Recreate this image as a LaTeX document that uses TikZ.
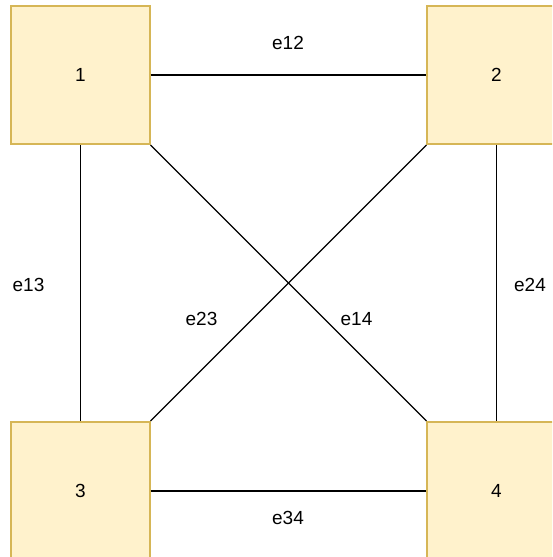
\documentclass[tikz,border=0pt]{standalone}
\usepackage{fontspec}
\setmainfont{Liberation Sans}
\definecolor{boxfill}{HTML}{FFF2CC}
\definecolor{boxdraw}{HTML}{D6B656}
\tikzset{
  vbox/.style={draw=boxdraw, fill=boxfill, line width=1.6pt, minimum width=138.5pt, minimum height=138.5pt, inner sep=0pt, font=\fontsize{19}{21}\selectfont},
  elabel/.style={inner sep=0pt, font=\fontsize{19}{21}\selectfont},
  edge/.style={draw=black, line width=1.3pt}
}
\begin{document}
\begin{tikzpicture}[x=1pt,y=-1pt]
\useasboundingbox (0,0) rectangle (552,557);
\clip (0,0) rectangle (552,557);
\node[vbox] (n1) at (80.5,75) {1};
\node[vbox] (n2) at (496.5,75) {2};
\node[vbox] (n3) at (80.5,491) {3};
\node[vbox] (n4) at (496.5,491) {4};
\draw[edge] (n1.east) -- (n2.west);
\draw[edge] (n1.south) -- (n3.north);
\draw[edge] (n2.south) -- (n4.north);
\draw[edge] (n3.east) -- (n4.west);
\draw[edge] (n1.south east) -- (n4.north west);
\draw[edge] (n2.south west) -- (n3.north east);
\node[elabel] (l12) at (288,42.5) {e12};
\node[elabel] (l13) at (28.5,285) {e13};
\node[elabel] (l24) at (530,285) {e24};
\node[elabel] (l23) at (201.5,319) {e23};
\node[elabel] (l14) at (356.5,319) {e14};
\node[elabel] (l34) at (288,517.5) {e34};
\end{tikzpicture}
\end{document}
